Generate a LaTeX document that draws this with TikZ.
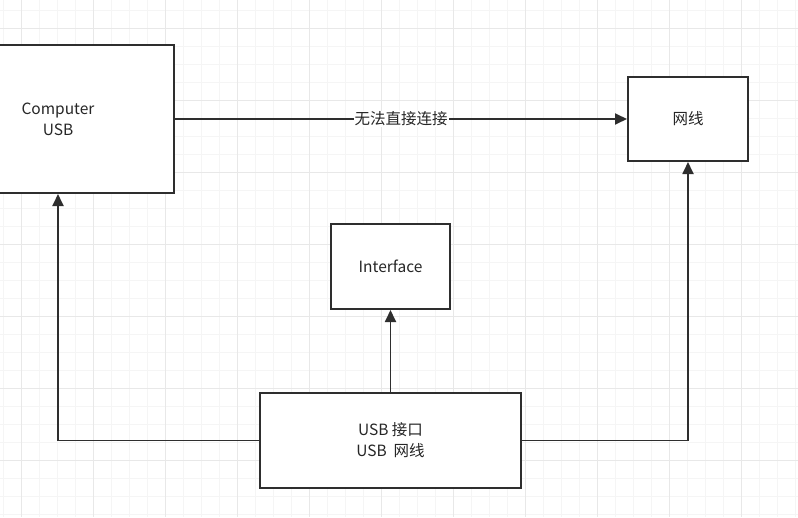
\documentclass[tikz,border=0pt]{standalone}
\usepackage{fontspec}
\setmainfont{Noto Sans CJK SC}
\usetikzlibrary{arrows.meta}
\definecolor{edge}{HTML}{2E2E2E}
\tikzset{
  box/.style={draw=edge, line width=2pt, fill=white, inner sep=0pt, font=\fontsize{15.5}{21}\selectfont, text=black!85, align=center},
  conn/.style={draw=edge, line width=1.8pt, -{Triangle[length=12pt,width=11pt]}},
}
\begin{document}
\begin{tikzpicture}[x=1pt,y=-1pt]
\clip (0,0) rectangle (798,517);
\fill[white] (0,0) rectangle (798,517);
% faint grid
\foreach \x in {3,21,...,798} \draw[black!4, line width=0.6pt] (\x,0) -- (\x,517);
\foreach \y in {10,28,...,517} \draw[black!4, line width=0.6pt] (0,\y) -- (798,\y);
\foreach \x in {21,93,...,798} \draw[black!9, line width=0.8pt] (\x,0) -- (\x,517);
\foreach \y in {28,100,...,517} \draw[black!9, line width=0.8pt] (0,\y) -- (798,\y);

\node[box, minimum width=232pt, minimum height=148pt] (comp) at (58,119) {Computer\\USB};
\node[box, minimum width=120pt, minimum height=84pt] (wang) at (688,119) {网线};
\node[box, minimum width=119pt, minimum height=85pt] (iface) at (390.5,266.5) {Interface};
\node[box, minimum width=261pt, minimum height=95pt] (usb) at (390.5,440.5) {USB 接口\\USB\ \ 网线};

\draw[conn] (comp.east) -- node[fill=white, inner sep=1pt, font=\fontsize{15.5}{19}\selectfont, text=black!85] (lbl) {无法直接连接} (wang.west);
\draw[conn] (usb.west) -| (comp.south);
\draw[conn] (usb.north) -- (iface.south);
\draw[conn] (usb.east) -| (wang.south);
\end{tikzpicture}
\end{document}
